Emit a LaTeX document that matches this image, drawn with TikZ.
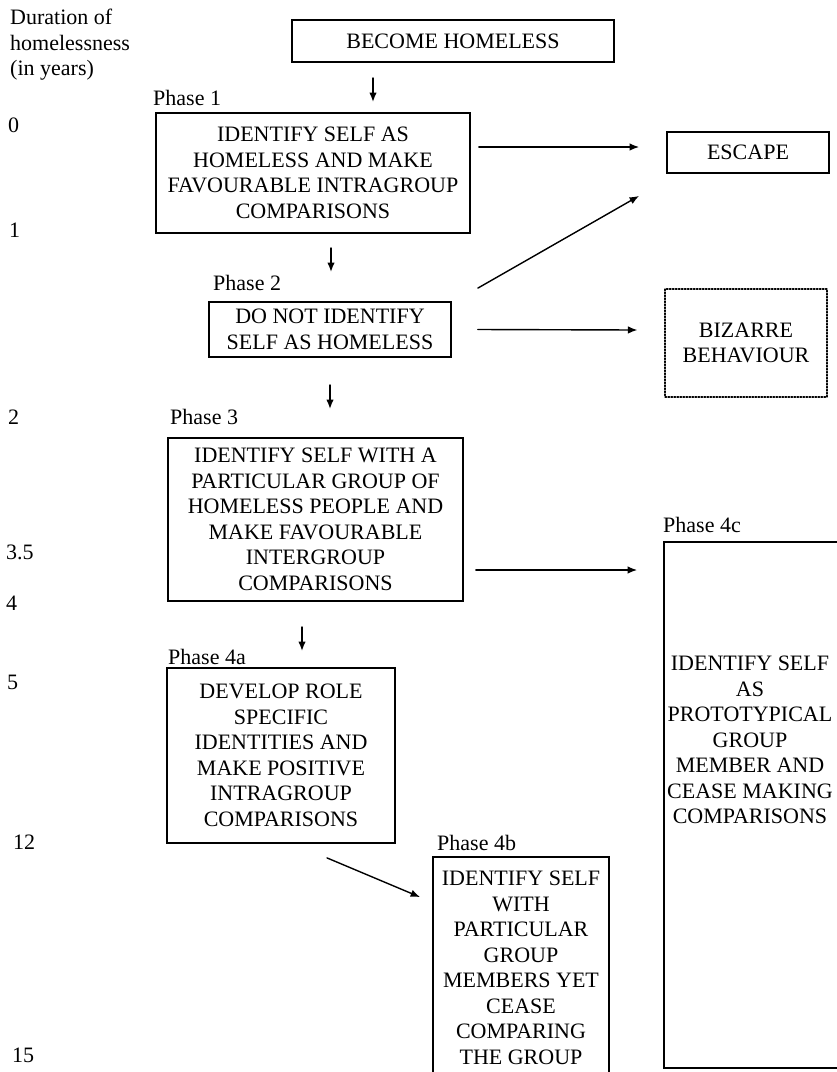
\documentclass[tikz,border=0pt]{standalone}
\usepackage{fontspec}
\setmainfont{Liberation Serif}
\usetikzlibrary{arrows.meta}

\begin{document}
\begin{tikzpicture}[x=1pt, y=-1pt, >={Latex[length=9.5pt,width=7.5pt]}, line cap=round,
  font=\fontsize{22}{25.5}\selectfont,
  stage/.style={draw, line width=1.8pt, align=center, inner sep=0pt},
  flow/.style={->, line width=1.4pt},
  plain/.style={inner sep=0pt, anchor=west}]
  \useasboundingbox (0,0) rectangle (837,1072);
  \clip (0,0) rectangle (837,1072);
  % time axis on the left
  \node[align=left, anchor=north west, inner sep=0pt] (axis) at (10,9) {Duration of\\homelessness\\(in years)};
  \foreach \yr/\y/\x [count=\i] in {0/125/8, 1/230/9, 2/417/8, 3.5/552/6, 4/603/6, 5/682/7, 12/842/13, 15/1055/12}
    \node[plain] (yr\i) at (\x,\y) {\yr};
  % boxes
  \node[stage, minimum width=322, minimum height=42] (become) at (453,41) {BECOME HOMELESS};
  \node[plain] (ph1) at (153,98) {Phase 1};
  \node[stage, minimum width=314, minimum height=120] (p1) at (313,173) {IDENTIFY SELF AS\\HOMELESS AND MAKE\\FAVOURABLE INTRAGROUP\\COMPARISONS};
  \node[stage, minimum width=162, minimum height=41] (esc) at (748,152.5) {ESCAPE};
  \node[plain] (ph2) at (213,283) {Phase 2};
  \node[stage, minimum width=242, minimum height=55] (p2) at (330,329.5) {DO NOT IDENTIFY\\SELF AS HOMELESS};
  \node[stage, line width=1.1pt, dash pattern=on 1.5pt off 1.5pt, minimum width=162, minimum height=108] (biz) at (746,343) {BIZARRE\\BEHAVIOUR};
  \node[plain] (ph3) at (170,417) {Phase 3};
  \node[stage, minimum width=295, minimum height=163] (p3) at (315.5,519.5) {IDENTIFY SELF WITH A\\PARTICULAR GROUP OF\\HOMELESS PEOPLE AND\\MAKE FAVOURABLE\\INTERGROUP\\COMPARISONS};
  \node[plain] (ph4a) at (168,657) {Phase 4a};
  \node[stage, minimum width=228, minimum height=175] (p4a) at (281,755.5) {DEVELOP ROLE\\SPECIFIC\\IDENTITIES AND\\MAKE POSITIVE\\INTRAGROUP\\COMPARISONS};
  \node[plain] (ph4b) at (437,843) {Phase 4b};
  \node[stage, minimum width=176, minimum height=222] (p4b) at (521,968) {IDENTIFY SELF\\WITH\\PARTICULAR\\GROUP\\MEMBERS YET\\CEASE\\COMPARING\\THE GROUP};
  \node[plain] (ph4c) at (663,525) {Phase 4c};
  \node[stage, minimum width=176, minimum height=526] (p4c) at (752,805) {};
  \node[align=center, inner sep=0pt] (p4ctxt) at (750,740) {IDENTIFY SELF\\AS\\PROTOTYPICAL\\GROUP\\MEMBER AND\\CEASE MAKING\\COMPARISONS};
  % downward steps
  \coordinate (d1) at (373,78);
  \coordinate (d2) at (331,248);
  \coordinate (d3) at (330,385);
  \coordinate (d4) at (302,627);
  \foreach \d in {d1,d2,d3,d4}
    \draw[flow] (\d) -- ++(0,24);
  % exits
  \draw[flow] ([shift={(8,-26)}]p1.east) -- ([shift={(-27,-5.5)}]esc.west);
  \draw[flow] ([shift={(26,-13)}]p2.north east) -- ([shift={(-27,22)}]esc.south west);
  \draw[flow] ([shift={(26,0)}]p2.east) -- ([shift={(-27,-13)}]biz.west);
  \draw[flow] ([shift={(12,50.5)}]p3.east) -- ([shift={(-26,-235)}]p4c.west);
  \draw[flow] ([shift={(46,14)}]p4a.south) -- ([shift={(-12,41)}]p4b.north west);
\end{tikzpicture}
\end{document}
